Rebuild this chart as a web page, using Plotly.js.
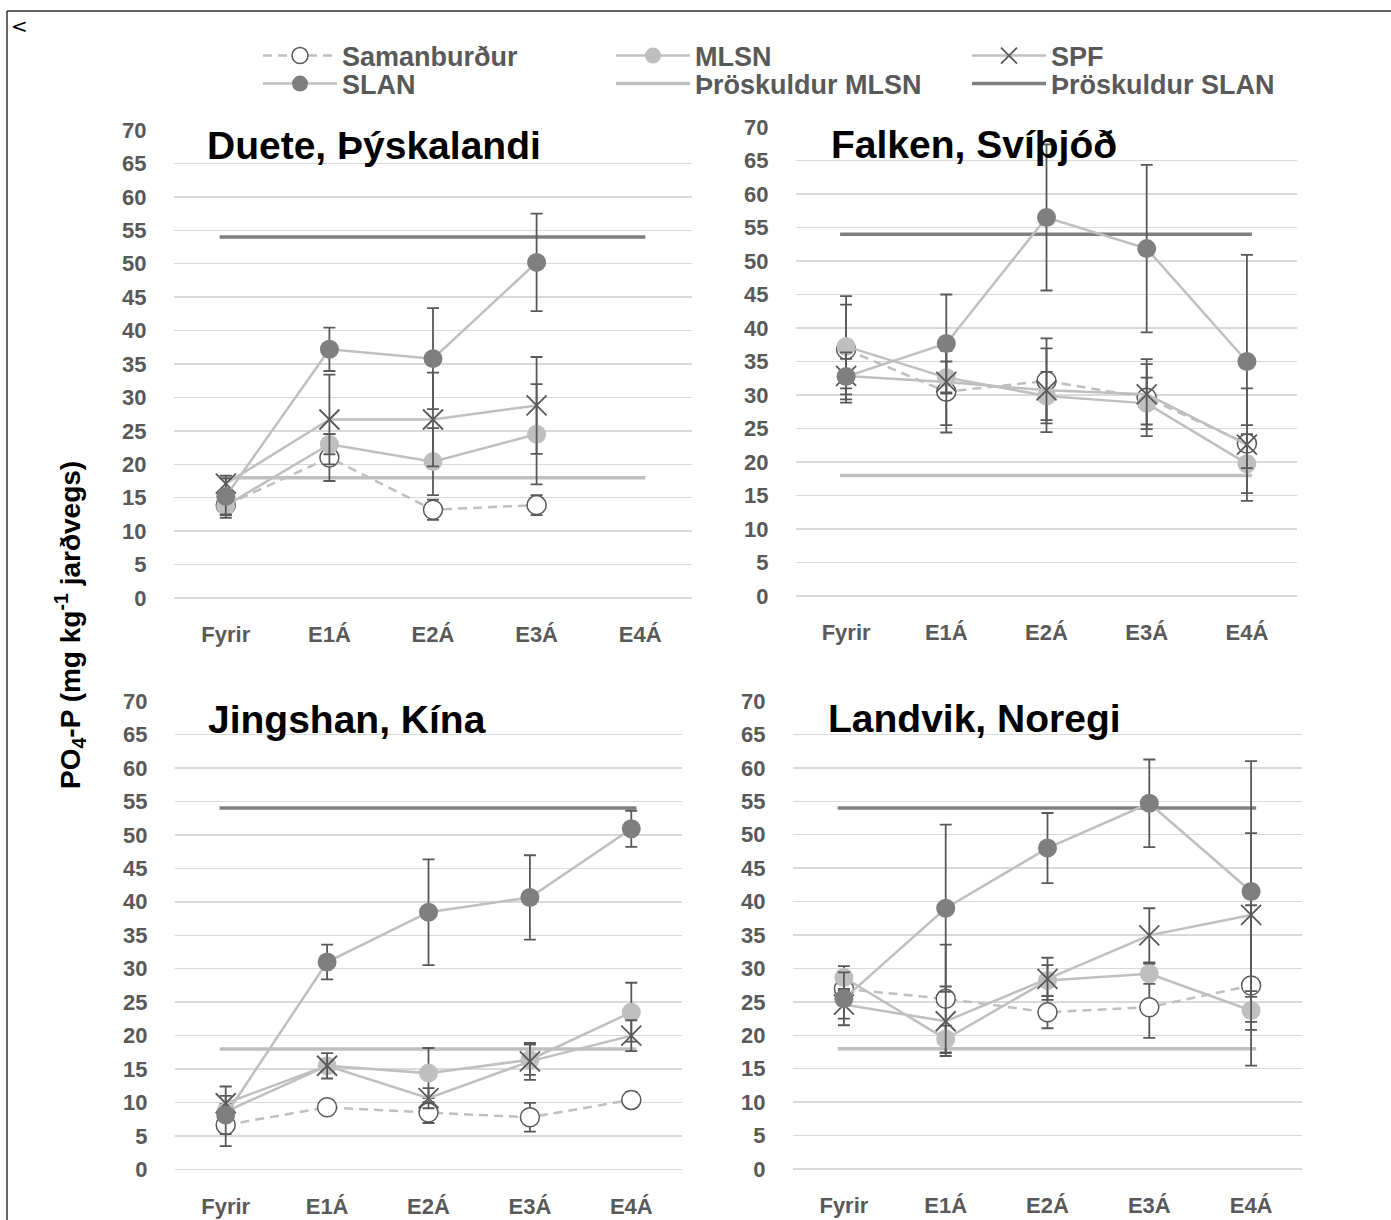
<!DOCTYPE html>
<html>
<head>
<meta charset="utf-8">
<script src="https://cdn.plot.ly/plotly-3.0.1.min.js"></script>
<style>
  html, body { margin: 0; padding: 0; background: #ffffff; }
  #chart { width: 1391px; height: 1220px; }
</style>
</head>
<body>
<div id="chart"></div>
<script>
// ---------- DATA ----------
const categories = ['Fyrir', 'E1Á', 'E2Á', 'E3Á', 'E4Á'];
const panelTitles = ['Duete, Þýskalandi', 'Falken, Svíþjóð', 'Jingshan, Kína', 'Landvik, Noregi'];
const seriesNames = ['Samanburður', 'MLSN', 'SPF', 'SLAN'];
const thresholdNames = ['Þröskuldur MLSN', 'Þröskuldur SLAN'];
const thresholdMLSN = 18;
const thresholdSLAN = 54;

// Duete, Þýskalandi
const duete_samanburdur = [13.9, 21.0, 13.2, 13.9, null];
const duete_samanburdur_err = [1.9, 3.5, 1.5, 1.5, null];
const duete_mlsn = [13.8, 23.0, 20.4, 24.5, null];
const duete_mlsn_err = [1.4, 1.5, 5.0, 7.5, null];
const duete_spf = [17.1, 26.7, 26.7, 28.8, null];
const duete_spf_err = [1.2, 6.7, 7.0, 7.25, null];
const duete_slan = [15.2, 37.2, 35.8, 50.2, null];
const duete_slan_err = [2.7, 3.25, 7.55, 7.3, null];

// Falken, Svíþjóð
const falken_samanburdur = [36.8, 30.5, 32.1, 29.6, 22.75];
const falken_samanburdur_err = [7.95, 6.1, 6.35, 5.75, 2.75];
const falken_mlsn = [37.25, 32.6, 29.85, 28.75, 19.75];
const falken_mlsn_err = [6.25, 2.4, 3.6, 3.85, 4.4];
const falken_spf = [32.85, 31.95, 30.7, 30.1, 22.6];
const falken_spf_err = [3.5, 6.45, 6.25, 4.5, 8.4];
const falken_slan = [32.75, 37.7, 56.5, 51.85, 35.0];
const falken_slan_err = [2.65, 7.3, 10.9, 12.5, 15.9];

// Jingshan, Kína
const jingshan_samanburdur = [6.65, 9.3, 8.5, 7.8, 10.4];
const jingshan_samanburdur_err = [3.15, 1.1, 1.55, 2.15, 1.2];
const jingshan_mlsn = [8.65, 15.5, 14.4, 16.4, 23.5];
const jingshan_mlsn_err = [1.0, 1.0, 3.75, 2.25, 4.4];
const jingshan_spf = [9.9, 15.5, 10.65, 16.15, 20.0];
const jingshan_spf_err = [2.5, 1.9, 1.5, 2.75, 2.3];
const jingshan_slan = [8.15, 31.0, 38.45, 40.65, 50.9];
const jingshan_slan_err = [2.85, 2.6, 7.9, 6.3, 2.7];

// Landvik, Noregi
const landvik_samanburdur = [26.95, 25.45, 23.45, 24.2, 27.45];
const landvik_samanburdur_err = [1.0, 8.1, 2.4, 4.6, 12.0];
const landvik_mlsn = [28.65, 19.45, 28.2, 29.2, 23.7];
const landvik_mlsn_err = [1.7, 2.0, 2.3, 1.5, 2.9];
const landvik_spf = [24.6, 22.1, 28.45, 34.95, 38.0];
const landvik_spf_err = [2.1, 5.2, 3.15, 4.05, 12.25];
const landvik_slan = [25.45, 39.0, 48.0, 54.7, 41.5];
const landvik_slan_err = [3.95, 12.5, 5.25, 6.55, 19.5];

// ---------- STYLE ----------
const W = 1391, H = 1220;
const FONT = 'Liberation Sans, Arial, sans-serif';
const TXT = '#595959';
const LINE_LIGHT = '#bfbfbf';
const DARK_MARK = '#7f7f7f';
const ERR_COLOR = '#595959';
const THRESH_EXTENT = [-0.06, 4.05];

// panel plot areas in pixels [x0, x1, yTop, yBottom]
const panelBoxes = [
  [174, 692, 130, 598],
  [796, 1297, 127, 596],
  [175, 682, 701, 1169.5],
  [793, 1302, 701, 1169]
];
const titlePos = [[205, 146], [829, 145], [206, 719], [826, 718]];
// one legend per entry: [symbol-left px, row-centre px]
const legendSlots = {
  legend:  [263, 56],  // Samanburður
  legend2: [616, 56],  // MLSN
  legend3: [972, 56],  // SPF
  legend4: [263, 84],  // SLAN
  legend5: [616, 84],  // Þröskuldur MLSN
  legend6: [972, 84]   // Þröskuldur SLAN
};
const seriesLegend = ['legend', 'legend2', 'legend3', 'legend4'];
const thresholdLegend = ['legend5', 'legend6'];

const panels = [
  [duete_samanburdur, duete_samanburdur_err, duete_mlsn, duete_mlsn_err, duete_spf, duete_spf_err, duete_slan, duete_slan_err],
  [falken_samanburdur, falken_samanburdur_err, falken_mlsn, falken_mlsn_err, falken_spf, falken_spf_err, falken_slan, falken_slan_err],
  [jingshan_samanburdur, jingshan_samanburdur_err, jingshan_mlsn, jingshan_mlsn_err, jingshan_spf, jingshan_spf_err, jingshan_slan, jingshan_slan_err],
  [landvik_samanburdur, landvik_samanburdur_err, landvik_mlsn, landvik_mlsn_err, landvik_spf, landvik_spf_err, landvik_slan, landvik_slan_err]
];

const xIdx = categories.map((c, i) => i);

function errObj(arr) {
  return { type: 'data', array: arr, visible: true, color: ERR_COLOR, thickness: 1.8, width: 6 };
}

const traces = [];
panels.forEach((p, k) => {
  const ax = k === 0 ? '' : String(k + 1);
  const xa = 'x' + ax, ya = 'y' + ax;
  const first = k === 0;
  traces.push({
    type: 'scatter', mode: 'lines', x: THRESH_EXTENT, y: [thresholdMLSN, thresholdMLSN],
    xaxis: xa, yaxis: ya, name: thresholdNames[0], showlegend: first, legend: thresholdLegend[0],
    line: { color: LINE_LIGHT, width: 3.5 }, hoverinfo: 'skip'
  });
  traces.push({
    type: 'scatter', mode: 'lines', x: THRESH_EXTENT, y: [thresholdSLAN, thresholdSLAN],
    xaxis: xa, yaxis: ya, name: thresholdNames[1], showlegend: first, legend: thresholdLegend[1],
    line: { color: DARK_MARK, width: 3.5 }, hoverinfo: 'skip'
  });
  traces.push({
    type: 'scatter', mode: 'lines+markers', x: xIdx, y: p[0], xaxis: xa, yaxis: ya,
    name: seriesNames[0], showlegend: first, legend: seriesLegend[0],
    line: { color: LINE_LIGHT, width: 2.5, dash: '9px,6px' },
    marker: { symbol: 'circle', size: 19, color: '#ffffff', line: { color: '#595959', width: 1.5 } },
    error_y: errObj(p[1])
  });
  traces.push({
    type: 'scatter', mode: 'lines+markers', x: xIdx, y: p[2], xaxis: xa, yaxis: ya,
    name: seriesNames[1], showlegend: first, legend: seriesLegend[1],
    line: { color: LINE_LIGHT, width: 2.5 },
    marker: { symbol: 'circle', size: 19, color: LINE_LIGHT, line: { width: 0 } },
    error_y: errObj(p[3])
  });
  traces.push({
    type: 'scatter', mode: 'lines+markers', x: xIdx, y: p[4], xaxis: xa, yaxis: ya,
    name: seriesNames[2], showlegend: first, legend: seriesLegend[2],
    line: { color: LINE_LIGHT, width: 2.5 },
    marker: { symbol: 'x-thin-open', size: 20, color: '#595959', line: { color: '#595959', width: 1.8 } },
    error_y: errObj(p[5])
  });
  traces.push({
    type: 'scatter', mode: 'lines+markers', x: xIdx, y: p[6], xaxis: xa, yaxis: ya,
    name: seriesNames[3], showlegend: first, legend: seriesLegend[3],
    line: { color: LINE_LIGHT, width: 2.5 },
    marker: { symbol: 'circle', size: 19, color: DARK_MARK, line: { width: 0 } },
    error_y: errObj(p[7])
  });
});

const layout = {
  width: W, height: H,
  margin: { l: 0, r: 0, t: 0, b: 0 },
  paper_bgcolor: '#ffffff', plot_bgcolor: 'rgba(0,0,0,0)',
  font: { family: FONT, color: TXT },
  showlegend: true,
  annotations: [],
  shapes: [
    { type: 'line', xref: 'paper', yref: 'paper', x0: 7 / W, x1: 1, y0: 1 - 11 / H, y1: 1 - 11 / H, line: { color: '#333333', width: 1.5 } },
    { type: 'line', xref: 'paper', yref: 'paper', x0: 7 / W, x1: 7 / W, y0: 0, y1: 1 - 11 / H, line: { color: '#333333', width: 1.5 } }
  ]
};

Object.keys(legendSlots).forEach(id => {
  const [px, py] = legendSlots[id];
  layout[id] = {
    orientation: 'v', x: (px - 5) / W, xanchor: 'left', y: 1 - py / H, yanchor: 'middle',
    itemwidth: 74, bgcolor: 'rgba(0,0,0,0)', borderwidth: 0,
    font: { family: FONT, size: 27, color: TXT, weight: 'bold' }
  };
});

panelBoxes.forEach((b, k) => {
  const ax = k === 0 ? '' : String(k + 1);
  layout['xaxis' + ax] = {
    domain: [b[0] / W, b[1] / W], anchor: 'y' + ax,
    type: 'linear', range: [-0.5, 4.5], tickmode: 'array', tickvals: xIdx, ticktext: categories,
    showgrid: false, zeroline: false, showline: false,
    ticks: 'outside', ticklen: 17, tickcolor: 'rgba(0,0,0,0)',
    tickfont: { family: FONT, size: 22, color: TXT, weight: 'bold' },
    fixedrange: true
  };
  layout['yaxis' + ax] = {
    domain: [1 - b[3] / H, 1 - b[2] / H], anchor: 'x' + ax,
    range: [0, 70], tickmode: 'linear', tick0: 0, dtick: 5,
    showgrid: true, gridcolor: '#d9d9d9', gridwidth: 1.5,
    zeroline: true, zerolinecolor: '#d9d9d9', zerolinewidth: 1.5, showline: false,
    ticks: 'outside', ticklen: 22, tickcolor: 'rgba(0,0,0,0)',
    tickfont: { family: FONT, size: 22, color: TXT, weight: 'bold' },
    fixedrange: true
  };
  layout.annotations.push({
    xref: 'paper', yref: 'paper', x: titlePos[k][0] / W, y: 1 - titlePos[k][1] / H,
    xanchor: 'left', yanchor: 'middle', showarrow: false,
    text: panelTitles[k], font: { family: FONT, size: 39, color: '#000000', weight: 'bold' }
  });
});

layout.annotations.push({
  xref: 'paper', yref: 'paper', x: 70 / W, y: 1 - 625 / H, xanchor: 'center', yanchor: 'middle',
  showarrow: false, textangle: -90,
  text: 'PO<sub>4</sub>-P (mg kg<sup>-1</sup> jarðvegs)',
  font: { family: FONT, size: 28, color: '#000000', weight: 'bold' }
});
layout.annotations.push({
  xref: 'paper', yref: 'paper', x: 9 / W, y: 1 - 12 / H, xanchor: 'left', yanchor: 'top',
  showarrow: false, text: '&lt;', font: { family: 'DejaVu Sans, sans-serif', size: 20, color: '#000000' }
});

Plotly.newPlot('chart', traces, layout, { staticPlot: true, displayModeBar: false });
</script>
</body>
</html>
